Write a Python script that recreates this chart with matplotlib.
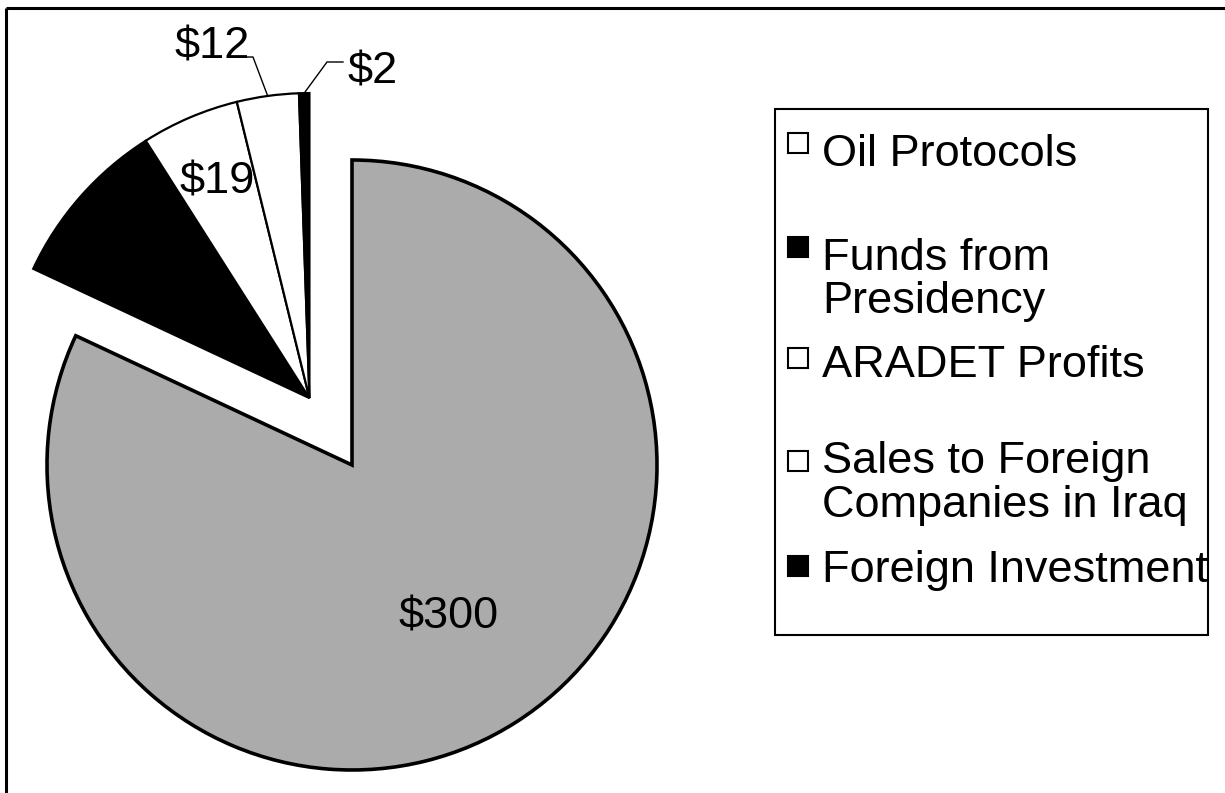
import numpy as np
import matplotlib.pyplot as plt
from matplotlib.patches import Rectangle
from matplotlib.lines import Line2D

# Revenue sources (millions of dollars)
categories = ["Oil Protocols", "Funds from\nPresidency", "ARADET Profits",
              "Sales to Foreign\nCompanies in Iraq", "Foreign Investment"]
values = [300, 33, 19, 12, 2]
value_labels = ["$300", None, "$19", "$12", "$2"]
colors = ["#ababab", "black", "white", "white", "black"]

W, H = 1225, 793
FONT = "Liberation Sans"
FS = 32.5

fig = plt.figure(figsize=(W / 100, H / 100), dpi=100)
ax = fig.add_axes([0, 0, 1, 1])

cx, cy, R = 352, H - 465, 305
wedges, _ = ax.pie(values, colors=colors, startangle=90, counterclock=False,
                   radius=R, center=(cx, cy),
                   wedgeprops=dict(edgecolor="black", linewidth=1.6))
wedges[0].set_linewidth(2.6)
ax.set_xlim(0, W)
ax.set_ylim(0, H)
ax.set_aspect("equal")
ax.axis("off")

# Pull all the smaller slices out together along their shared bisector
total = sum(values)
main_span = 360.0 * values[0] / total
group_ang = np.deg2rad(90 - (main_span + 360) / 2)
shift = 0.26 * R
gx = cx + shift * np.cos(group_ang)
gy = cy + shift * np.sin(group_ang)
for w in wedges[1:]:
    w.set_center((gx, gy))


def mid_point(w, frac):
    a = np.deg2rad((w.theta1 + w.theta2) / 2)
    c = w.center
    return c[0] + frac * w.r * np.cos(a), c[1] + frac * w.r * np.sin(a)


txt = dict(family=FONT, fontsize=FS, color="black", ha="center", va="center")

# Value labels inside the slices
x, y = mid_point(wedges[0], 0.59)
ax.text(x, y, value_labels[0], **txt)
x, y = mid_point(wedges[2], 0.77)
ax.text(x, y, value_labels[2], **txt)

# Value labels outside the thin slices, joined to their slice by an elbow line
outside = [
    # slice, label centre, elbow start, elbow corner
    (3, (212, H - 47), (247, H - 57), (253, H - 57)),
    (4, (373, H - 72), (343, H - 62), (327, H - 62)),
]
for idx, (lx, ly), (sx, sy), (kx, ky) in outside:
    ex, ey = mid_point(wedges[idx], 1.0)
    ax.add_line(Line2D([sx, kx, ex], [sy, ky, ey], color="black", lw=1.0))
    ax.text(lx, ly, value_labels[idx], **txt)

# Legend box
ax.add_patch(Rectangle((775, H - 635), 1208 - 775, 635 - 109, facecolor="white",
                       edgecolor="black", lw=1.5))

marker_y = [143, 247, 358, 461, 566]
line_baselines = [[166], [270, 313], [377], [473, 517], [582]]
legend_face = ["white", "black", "white", "white", "black"]
for cat, my, bases, fc in zip(categories, marker_y, line_baselines, legend_face):
    ax.add_patch(Rectangle((788, H - my - 10), 20, 20, facecolor=fc,
                           edgecolor="black", lw=1.5))
    for line, b in zip(cat.split("\n"), bases):
        ax.text(822, H - b, line, family=FONT, fontsize=FS, color="black",
                ha="left", va="baseline")

# Outer frame (top and left edges)
ax.add_line(Line2D([6, W], [H - 8, H - 8], color="black", lw=2.2,
                   solid_capstyle="butt"))
ax.add_line(Line2D([6, 6], [0, H - 8], color="black", lw=2.2,
                   solid_capstyle="butt"))

fig.savefig("out.png", dpi=100, facecolor="white")
